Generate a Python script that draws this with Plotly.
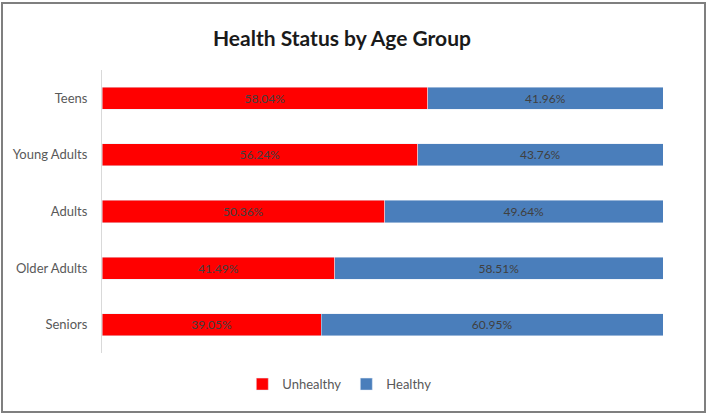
import plotly.graph_objects as go

categories = ["Teens", "Young Adults", "Adults", "Older Adults", "Seniors"]
unhealthy = [58.04, 56.24, 50.36, 41.49, 39.05]
healthy = [41.96, 43.76, 49.64, 58.51, 60.95]

font_family = "Lato, Open Sans, Liberation Sans, Arial, sans-serif"

fig = go.Figure()
fig.add_trace(go.Bar(
    y=categories, x=unhealthy, name="Unhealthy", orientation="h",
    marker=dict(color="#FF0000"),
    text=[f"{v:.2f}%" for v in unhealthy], textposition="inside",
    insidetextanchor="middle", textfont=dict(color="#404040", size=12),
))
fig.add_trace(go.Bar(
    y=categories, x=healthy, name="Healthy", orientation="h",
    marker=dict(color="#4A7EBB"),
    text=[f"{v:.2f}%" for v in healthy], textposition="inside",
    insidetextanchor="middle", textfont=dict(color="#404040", size=12),
))

fig.update_layout(
    width=708, height=415,
    barmode="stack", bargap=0.61,
    margin=dict(l=102, r=45, t=70, b=62, autoexpand=False),
    paper_bgcolor="white", plot_bgcolor="white",
    font=dict(family=font_family, color="#595959", size=13),
    title=dict(text="<b>Health Status by Age Group</b>", x=0.483, xanchor="center",
               y=0.908, yanchor="middle",
               font=dict(size=21, color="#1a1a1a", family=font_family)),
    xaxis=dict(range=[0, 100], showticklabels=False, showgrid=False,
               zeroline=False, showline=False, automargin=False),
    yaxis=dict(autorange="reversed", showgrid=False, showline=True,
               linecolor="#D9D9D9", linewidth=1, ticks="", ticklen=0,
               automargin=False, ticklabelstandoff=11,
               tickfont=dict(size=13, color="#595959")),
    legend=dict(orientation="h", x=0.423, xanchor="center", y=-0.11, yanchor="middle",
                font=dict(size=13, color="#595959"), itemwidth=30,
                traceorder="normal"),
    uniformtext=dict(mode="show", minsize=8),
    shapes=[dict(type="rect", xref="paper", yref="paper",
                 x0=-100/561, x1=(708-3-102)/561, y0=-(62-3)/283, y1=(415-3-62)/283,
                 line=dict(color="#7F7F7F", width=2), fillcolor="rgba(0,0,0,0)")],
)

fig.write_html("out.html", config={"displayModeBar": False},
               post_script="document.body.style.margin='0';document.body.style.overflow='hidden';")
